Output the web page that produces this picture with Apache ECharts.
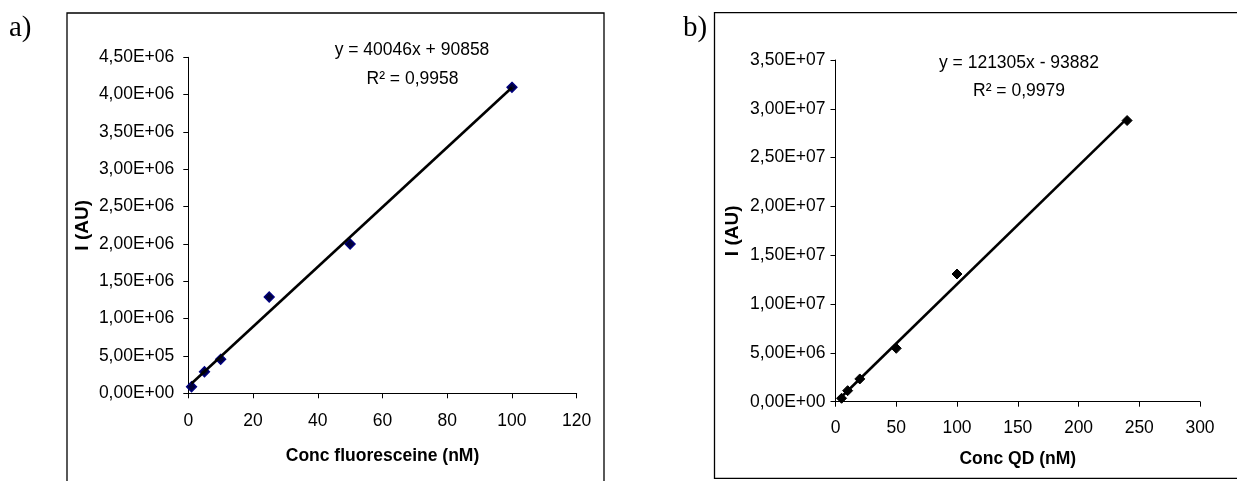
<!DOCTYPE html>
<html>
<head>
<meta charset="utf-8">
<script src="https://cdn.jsdelivr.net/npm/echarts@6/dist/echarts.min.js"></script>
<style>
html,body{margin:0;padding:0;background:#fff;}
#chart{width:1237px;height:481px;}
</style>
</head>
<body>
<div id="chart"></div>
<script>
// ---- Panel a) fluoresceine ----
const concFluo = [1, 5, 10, 25, 50, 100];
const intensityFluo = [88000, 289000, 455000, 1290000, 2000000, 4098000];
const trendFluo = [[1, 130904], [100, 4095458]];
const eqFluo = 'y = 40046x + 90858';
const r2Fluo = 'R² = 0,9958';
const yTicksA = ['0,00E+00','5,00E+05','1,00E+06','1,50E+06','2,00E+06','2,50E+06','3,00E+06','3,50E+06','4,00E+06','4,50E+06'];
const xTicksA = ['0','20','40','60','80','100','120'];

// ---- Panel b) QD ----
const concQD = [5, 10, 20, 50, 100, 240];
const intensityQD = [350000, 1130000, 2330000, 5470000, 13080000, 28800000];
const trendQD = [[5, 512643], [240, 29019318]];
const eqQD = 'y = 121305x - 93882';
const r2QD = 'R² = 0,9979';
const yTicksB = ['0,00E+00','5,00E+06','1,00E+07','1,50E+07','2,00E+07','2,50E+07','3,00E+07','3,50E+07'];
const xTicksB = ['0','50','100','150','200','250','300'];

const FONT = '"Liberation Sans", Arial, sans-serif';
const SERIF = '"Liberation Serif", "Times New Roman", serif';

function axisBase(nameSize) {
  return {
    axisLine: {show: true, onZero: false, lineStyle: {color: '#000', width: 1}},
    axisTick: {show: true, inside: false, length: 5, lineStyle: {color: '#000', width: 1}},
    splitLine: {show: false},
    nameLocation: 'middle',
    nameTextStyle: {fontFamily: FONT, fontWeight: 'bold', fontSize: nameSize, color: '#000'}
  };
}

const chart = echarts.init(document.getElementById('chart'), null, {renderer: 'canvas'});

const option = {
  animation: false,
  backgroundColor: '#fff',
  grid: [
    {left: 188.3, top: 57.3, width: 388.4, height: 336},
    {left: 835.5, top: 60, width: 364.5, height: 341.7}
  ],
  xAxis: [
    Object.assign(axisBase(17.5), {
      gridIndex: 0, type: 'value', min: 0, max: 120, interval: 20,
      name: 'Conc fluoresceine (nM)', nameGap: 54,
      axisLabel: {margin: 19, fontFamily: FONT, fontSize: 17.5, color: '#000',
        formatter: v => xTicksA[Math.round(v / 20)]}
    }),
    Object.assign(axisBase(17.5), {
      gridIndex: 1, type: 'value', min: 0, max: 300, interval: 50,
      name: 'Conc QD (nM)', nameGap: 48,
      axisLabel: {margin: 17, fontFamily: FONT, fontSize: 17.5, color: '#000',
        formatter: v => xTicksB[Math.round(v / 50)]}
    })
  ],
  yAxis: [
    Object.assign(axisBase(19), {
      gridIndex: 0, type: 'value', min: 0, max: 4500000, interval: 500000,
      name: 'I (AU)', nameGap: 96,
      axisLabel: {margin: 14, fontFamily: FONT, fontSize: 17.5, color: '#000',
        formatter: v => yTicksA[Math.round(v / 500000)]}
    }),
    Object.assign(axisBase(19), {
      gridIndex: 1, type: 'value', min: 0, max: 35000000, interval: 5000000,
      name: 'I (AU)', nameGap: 93,
      axisLabel: {margin: 10, fontFamily: FONT, fontSize: 17.5, color: '#000',
        formatter: v => yTicksB[Math.round(v / 5000000)]}
    })
  ],
  series: [
    {
      type: 'scatter', xAxisIndex: 0, yAxisIndex: 0, z: 2,
      symbol: 'diamond', symbolSize: 10,
      itemStyle: {color: '#00003a', borderColor: '#000080', borderWidth: 1.3, opacity: 1},
      data: concFluo.map((c, i) => [c, intensityFluo[i]])
    },
    {
      type: 'line', xAxisIndex: 0, yAxisIndex: 0, z: 3,
      symbol: 'none', silent: true,
      lineStyle: {color: '#000', width: 2.6},
      data: trendFluo
    },
    {
      type: 'scatter', xAxisIndex: 1, yAxisIndex: 1, z: 2,
      symbol: 'diamond', symbolSize: 10,
      itemStyle: {color: '#000', borderColor: '#000', borderWidth: 1, opacity: 1},
      data: concQD.map((c, i) => [c, intensityQD[i]])
    },
    {
      type: 'line', xAxisIndex: 1, yAxisIndex: 1, z: 3,
      symbol: 'none', silent: true,
      lineStyle: {color: '#000', width: 2.6},
      data: trendQD
    }
  ],
  graphic: [
    {type: 'rect', shape: {x: 67, y: 13, width: 537, height: 500},
     style: {fill: 'none', stroke: '#000', lineWidth: 1.3}, z: 0, silent: true},
    {type: 'rect', shape: {x: 714.5, y: 12.7, width: 540, height: 465.6},
     style: {fill: 'none', stroke: '#000', lineWidth: 1.3}, z: 0, silent: true},
    {type: 'text', left: 9, top: 14,
     style: {text: 'a)', font: '29px ' + SERIF, fill: '#000'}},
    {type: 'text', left: 683, top: 14,
     style: {text: 'b)', font: '29px ' + SERIF, fill: '#000'}},
    {type: 'text', x: 412, y: 50,
     style: {text: eqFluo, font: '17.5px ' + FONT, fill: '#000', textAlign: 'center', textVerticalAlign: 'middle'}},
    {type: 'text', x: 412.5, y: 79,
     style: {text: r2Fluo, font: '17.5px ' + FONT, fill: '#000', textAlign: 'center', textVerticalAlign: 'middle'}},
    {type: 'text', x: 1019, y: 63.3,
     style: {text: eqQD, font: '17.5px ' + FONT, fill: '#000', textAlign: 'center', textVerticalAlign: 'middle'}},
    {type: 'text', x: 1019, y: 90.7,
     style: {text: r2QD, font: '17.5px ' + FONT, fill: '#000', textAlign: 'center', textVerticalAlign: 'middle'}}
  ]
};
chart.setOption(option);
</script>
</body>
</html>
